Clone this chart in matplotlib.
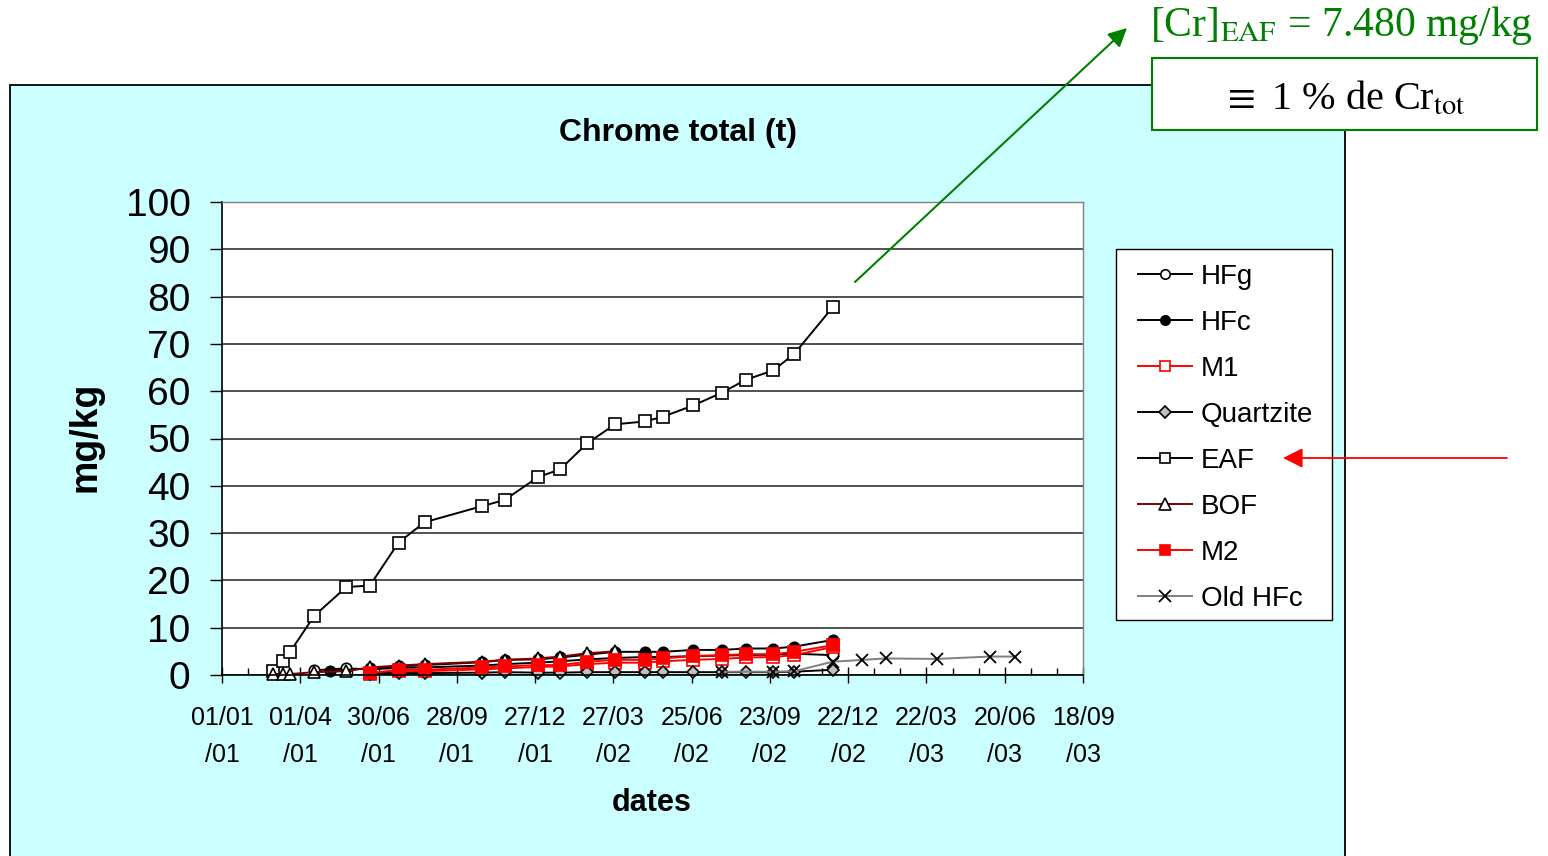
import numpy as np
import matplotlib.pyplot as plt
import matplotlib.dates as mdates
from matplotlib.patches import Rectangle, FancyArrowPatch

plt.rcParams['font.family'] = ['Liberation Sans', 'DejaVu Sans']
plt.rcParams['mathtext.fontset'] = 'stix'

W, H = 1548, 856

# dates de prelevement
d_eaf = ['2001-03-01', '2001-03-12', '2001-03-20', '2001-04-17', '2001-05-24', '2001-06-20',
         '2001-07-23', '2001-08-22', '2001-10-27', '2001-11-22', '2001-12-30', '2002-01-25',
         '2002-02-25', '2002-03-29', '2002-05-02', '2002-05-23', '2002-06-27', '2002-07-30',
         '2002-08-26', '2002-09-27', '2002-10-21', '2002-12-04']
eaf = [0.9, 3.0, 4.8, 12.5, 18.6, 18.9, 28.0, 32.3, 35.7, 37.0, 41.8, 43.5,
       49.0, 53.0, 53.6, 54.6, 57.0, 59.7, 62.4, 64.4, 67.9, 77.7]

d_hfg = ['2001-04-17', '2001-05-24', '2001-06-20', '2001-07-23', '2001-08-22', '2001-10-27',
         '2001-11-22', '2001-12-30', '2002-01-25', '2002-02-25', '2002-03-29', '2002-05-02',
         '2002-05-23', '2002-06-27', '2002-07-30', '2002-08-26', '2002-09-27', '2002-10-21',
         '2002-12-04']
hfg = [1.0, 1.4, 1.2, 1.5, 1.6, 2.0, 2.3, 2.6, 2.9, 3.3, 3.6, 3.8, 3.8, 4.0, 4.1, 4.2, 4.3, 4.5, 4.2]

d_hfc = ['2001-05-05', '2001-06-20', '2001-07-23', '2001-08-22', '2001-10-27', '2001-11-22',
         '2001-12-30', '2002-01-25', '2002-02-25', '2002-03-29', '2002-05-02', '2002-05-23',
         '2002-06-27', '2002-07-30', '2002-08-26', '2002-09-27', '2002-10-21', '2002-12-04']
hfc = [0.9, 1.4, 1.8, 2.1, 2.7, 3.2, 3.3, 3.7, 4.3, 4.9, 4.9, 4.9, 5.3, 5.3, 5.6, 5.6, 6.0, 7.4]

# M1, M2 et Quartzite : memes dates
d_m = ['2001-06-20', '2001-07-23', '2001-08-22', '2001-10-27', '2001-11-22', '2001-12-30',
       '2002-01-25', '2002-02-25', '2002-03-29', '2002-05-02', '2002-05-23', '2002-06-27',
       '2002-07-30', '2002-08-26', '2002-09-27', '2002-10-21', '2002-12-04']
m1 = [0.2, 0.8, 0.8, 1.2, 1.4, 1.7, 1.8, 2.3, 2.6, 2.6, 2.9, 3.2, 3.4, 3.7, 3.8, 4.2, 5.9]
m2 = [0.4, 1.1, 1.1, 1.6, 1.8, 2.1, 2.1, 2.8, 3.2, 3.2, 3.5, 4.0, 4.2, 4.4, 4.4, 4.9, 6.3]
quartz = [0.3, 0.4, 0.4, 0.5, 0.6, 0.5, 0.5, 0.6, 0.6, 0.6, 0.6, 0.6, 0.6, 0.6, 0.6, 0.7, 1.1]

d_bof = ['2001-03-01', '2001-03-12', '2001-03-20', '2001-04-17', '2001-05-24', '2001-06-20',
         '2001-07-23', '2001-08-22', '2001-10-27', '2001-11-22', '2001-12-30', '2002-01-25',
         '2002-02-25', '2002-03-29']
bof = [0.2, 0.2, 0.2, 0.6, 0.8, 1.6, 2.0, 2.3, 2.8, 3.2, 3.5, 3.9, 4.6, 5.0]

d_old = ['2002-07-30', '2002-09-27', '2002-10-21', '2002-12-04', '2003-01-07', '2003-02-03',
         '2003-04-03', '2003-06-03', '2003-07-02']
old_hfc = [0.7, 0.7, 0.8, 2.8, 3.2, 3.5, 3.4, 3.9, 3.9]

tick_dates = ['2001-01-01', '2001-04-01', '2001-06-30', '2001-09-28', '2001-12-27', '2002-03-27',
              '2002-06-25', '2002-09-23', '2002-12-22', '2003-03-22', '2003-06-20', '2003-09-18']


def dt(lst):
    return np.array(lst, dtype='datetime64[D]')


fig = plt.figure(figsize=(W / 100, H / 100), dpi=100)
fig.patch.set_facecolor('white')

# fond cyan du graphique
fig.add_artist(Rectangle((10 / W, -0.01), (1345 - 10) / W, (856 - 85) / H + 0.01,
                         transform=fig.transFigure, facecolor='#CCFFFF',
                         edgecolor='black', lw=1.3, zorder=-1))

ax = fig.add_axes([222 / W, 1 - 675 / H, 861 / W, 473 / H])
ax.set_facecolor('white')

series = [
    ('HFg', d_hfg, hfg, dict(color='black', marker='o', mfc='white', mec='black', ms=7.5)),
    ('HFc', d_hfc, hfc, dict(color='black', marker='o', mfc='black', mec='black', ms=7.5)),
    ('M1', d_m, m1, dict(color='red', marker='s', mfc='white', mec='red', ms=8.5)),
    ('Quartzite', d_m, quartz, dict(color='black', marker='D', mfc='#C0C0C0', mec='black', ms=6.5)),
    ('EAF', d_eaf, eaf, dict(color='black', marker='s', mfc='white', mec='black', ms=8.5)),
    ('BOF', d_bof, bof, dict(color='#800000', marker='^', mfc='white', mec='black', ms=9)),
    ('M2', d_m, m2, dict(color='red', marker='s', mfc='red', mec='red', ms=8.5)),
    ('Old HFc', d_old, old_hfc, dict(color='#808080', marker='x', mec='black', ms=9, mew=1.3)),
]
handles = []
for name, d, v, st in series:
    ln, = ax.plot(dt(d), v, lw=1.4, mew=st.pop('mew', 1.2), clip_on=False, label=name, **st)
    handles.append(ln)

ax.set_ylim(0, 100)
ax.set_yticks(range(0, 101, 10))
ax.yaxis.grid(True, color='#333333', lw=1.2)
ax.set_axisbelow(True)
ax.tick_params(axis='y', direction='out', length=8.6, width=1, pad=14, labelsize=28)

t0 = np.datetime64('2001-01-01')
ax.set_xlim(dt(['2001-01-01'])[0], dt(['2003-09-18'])[0])
tick_lbls = [np.datetime64(d).astype(object).strftime('%d/%m\n/%y') for d in tick_dates]
ax.set_xticks(dt(tick_dates), tick_lbls, linespacing=1.7)
ax.set_xticks(mdates.date2num(t0) + np.arange(0, 991, 30), minor=True)
ax.tick_params(axis='x', which='major', direction='inout', length=12, width=1, pad=16, labelsize=18)
ax.tick_params(axis='x', which='minor', direction='in', length=5, width=1)

for s in ['left', 'bottom']:
    ax.spines[s].set_color('black')
    ax.spines[s].set_linewidth(1.2)
for s in ['top', 'right']:
    ax.spines[s].set_color('#808080')
    ax.spines[s].set_linewidth(1.0)

fig.text(678 / W, 1 - 133 / H, 'Chrome total (t)', ha='center', va='center',
         fontsize=23, fontweight='bold')
fig.text(652 / W, 1 - 803 / H, 'dates', ha='center', va='center', fontsize=22, fontweight='bold')
fig.text(85 / W, 1 - 437 / H, 'mg/kg', ha='center', va='center', rotation=90,
         fontsize=27, fontweight='bold')

# cadre de legende dessine a part
fig.add_artist(Rectangle((1116 / W, 1 - 620 / H), (1332 - 1116) / W, (620 - 249) / H,
                         transform=fig.transFigure, facecolor='white', edgecolor='black',
                         lw=1.0, zorder=4))
leg = fig.legend(handles=handles, loc='upper left', bbox_to_anchor=(1138 / W, 1 - 264 / H),
                 bbox_transform=fig.transFigure, borderaxespad=0, borderpad=0, fontsize=20,
                 frameon=False, handlelength=1.95, handletextpad=0.32, labelspacing=0.72,
                 markerscale=0.9)
leg.set_zorder(5)

# annotation EAF
fig.add_artist(FancyArrowPatch((855 / W, 1 - 282 / H), (1127 / W, 1 - 28 / H),
                               transform=fig.transFigure, arrowstyle='-|>', mutation_scale=28,
                               color='#008000', lw=1.5, shrinkA=0, shrinkB=0, zorder=10))
fig.text(1150 / W, 1 - 36 / H, r'[Cr]$_{\mathrm{EAF}}$ = 7.480 mg/kg', ha='left', va='baseline',
         fontsize=30, color='#008000', family=['Liberation Serif', 'DejaVu Serif'])
fig.add_artist(Rectangle((1152 / W, 1 - 130 / H), 385 / W, 72 / H, transform=fig.transFigure,
                         facecolor='white', edgecolor='#008000', lw=1.5, zorder=3))
fig.text(1344 / W, 1 - 110 / H, r'$\equiv$ 1 % de Cr$_{\mathrm{tot}}$', ha='center',
         va='baseline', fontsize=29, color='black', zorder=4,
         family=['Liberation Serif', 'DejaVu Serif'])

fig.add_artist(FancyArrowPatch((1507 / W, 1 - 458 / H), (1283 / W, 1 - 458 / H),
                               transform=fig.transFigure, arrowstyle='-|>', mutation_scale=30,
                               color='red', lw=1.3, shrinkA=0, shrinkB=0, zorder=10))

fig.savefig('out.png', dpi=100)
